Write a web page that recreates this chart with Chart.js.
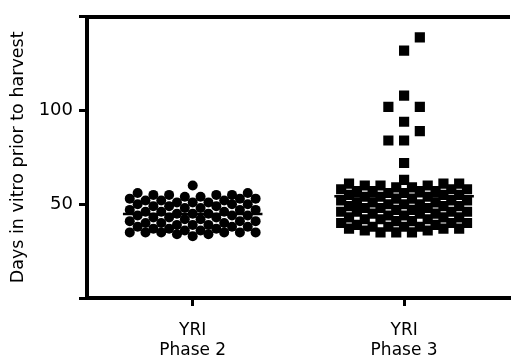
<!DOCTYPE html>
<html>
<head>
<meta charset="utf-8">
<script src="https://cdn.jsdelivr.net/npm/chart.js@4.4.1/dist/chart.umd.min.js"></script>
<style>
  html, body { margin: 0; padding: 0; background: #fff; overflow: hidden; }
  #wrap { width: 517px; height: 360px; }
</style>
</head>
<body>
<div id="wrap"><canvas id="chart" width="517" height="360"></canvas></div>
<script>
const groupLabels = [['YRI', 'Phase 2'], ['YRI', 'Phase 3']];
const yTitle = 'Days in vitro prior to harvest';
const yTicks = [0, 50, 100, 150];

// days in vitro, one entry per cell line
const phase2Days = [
  33, 34, 34, 35, 35, 35, 35, 35, 35,
  36, 36, 37, 37, 37, 38, 38, 38,
  39, 39, 39, 40, 40, 40, 41, 41, 41,
  42, 42, 43, 43, 43, 44, 44, 44,
  45, 45, 45, 46, 46, 46, 47, 47, 47,
  48, 48, 49, 49, 49, 50, 50, 50,
  51, 51, 51, 52, 52, 52, 53, 53, 53,
  54, 54, 55, 55, 55, 55, 56, 56,
  60
];
const phase3Days = [
  35, 35, 35, 36, 36, 37, 37, 37,
  38, 38, 38, 38, 39, 39, 40, 40, 40,
  41, 41, 42, 42, 42, 43, 43, 43,
  44, 44, 45, 45, 45, 46, 46, 46, 46,
  47, 47, 48, 48, 48, 49, 49, 49,
  50, 50, 50, 51, 51, 51, 52, 52, 52,
  53, 53, 54, 54, 54, 55, 55, 55,
  56, 56, 57, 57, 57, 57, 58, 58, 58,
  59, 59, 60, 60, 60, 61, 61, 61,
  63, 72, 84, 84, 89, 94, 102, 102, 108, 132, 139
];

const FONT = 'DejaVu Sans';
// rough pixel size of one day / one group on the plot, used only to spread the dots sideways
const PX_PER_DAY = 284 / 150;
const PX_PER_GROUP = 215;

// Prism-style scatter: values in the same bin share a row centred on the
// group, lowest value in the middle and higher ones outward. Lone points
// (bins with fewer than 3) are nudged left/right so they don't sit on each other.
function rows(values, group, binDays, spacing) {
  const lo = Math.min(...values);
  const bins = new Map();
  values.slice().sort((a, b) => a - b).forEach(v => {
    const b = Math.floor((v - lo) / binDays);
    if (!bins.has(b)) bins.set(b, []);
    bins.get(b).push(v);
  });
  const pts = [];
  const sparse = [];
  bins.forEach(vs => {
    const n = vs.length;
    if (n < 3) { sparse.push(...vs); return; }
    const slots = vs.map((v, j) => (j - (n - 1) / 2) * spacing)
      .sort((a, b) => Math.abs(a) - Math.abs(b) || a - b);
    vs.forEach((v, i) => pts.push({ x: group + slots[i] / PX_PER_GROUP, y: v }));
  });
  const placed = [];
  sparse.forEach((v, i) => {
    const py = v * PX_PER_DAY;
    let x = 0;
    for (let k = 0; k < 10; k++) {
      const tries = k === 0 ? [0] : (i % 2 ? [-k, k] : [k, -k]).map(s => s * spacing);
      const free = tries.find(dx => placed.every(p =>
        Math.abs(p.x - dx) >= spacing || Math.abs(p.y - py) >= spacing));
      if (free !== undefined) { x = free; break; }
    }
    placed.push({ x, y: py });
    pts.push({ x: group + x / PX_PER_GROUP, y: v });
  });
  return pts;
}

function mean(arr) {
  return arr.reduce((s, v) => s + v, 0) / arr.length;
}

const meanLine = (values, group) => [
  { x: group - 0.33, y: mean(values) },
  { x: group + 0.33, y: mean(values) }
];

new Chart(document.getElementById('chart'), {
  type: 'scatter',
  data: {
    datasets: [
      {
        data: rows(phase2Days, 0, 3, 16),
        pointStyle: 'circle',
        pointRadius: 5,
        backgroundColor: '#000',
        borderWidth: 0
      },
      {
        data: rows(phase3Days, 1, 3, 16),
        pointStyle: 'rect',
        pointRadius: 7.2,
        backgroundColor: '#000',
        borderWidth: 0
      },
      {
        type: 'line',
        data: meanLine(phase2Days, 0),
        borderColor: '#000',
        borderWidth: 2.5,
        pointRadius: 0
      },
      {
        type: 'line',
        data: meanLine(phase3Days, 1),
        borderColor: '#000',
        borderWidth: 2.5,
        pointRadius: 0
      }
    ]
  },
  options: {
    responsive: false,
    animation: false,
    layout: { padding: 0 },
    plugins: { legend: { display: false }, tooltip: { enabled: false } },
    scales: {
      x: {
        type: 'linear',
        position: 'bottom',
        min: -0.5,
        max: 1.5,
        afterBuildTicks: s => { s.ticks = groupLabels.map((g, i) => ({ value: i })); },
        ticks: {
          callback: v => groupLabels[v],
          color: '#000',
          font: { family: FONT, size: 17, lineHeight: 1.2 },
          padding: 14,
          maxRotation: 0,
          autoSkip: false
        },
        grid: { drawOnChartArea: false, tickLength: 8, lineWidth: 3, color: '#000' },
        border: { width: 4, color: '#000' },
        afterFit: s => { s.height = 62; }
      },
      x2: {
        type: 'linear',
        position: 'top',
        min: -0.5,
        max: 1.5,
        ticks: { display: false },
        grid: { drawOnChartArea: false, drawTicks: false, color: '#000' },
        border: { width: 4, color: '#000' },
        afterFit: s => { s.height = 14; }
      },
      y: {
        min: 0,
        max: 150,
        afterBuildTicks: s => { s.ticks = yTicks.map(v => ({ value: v })); },
        ticks: {
          callback: v => (v === 0 || v === 150) ? '' : v,
          color: '#000',
          font: { family: FONT, size: 18 },
          padding: 6
        },
        grid: { drawOnChartArea: false, tickLength: 8, lineWidth: 3, color: '#000' },
        border: { width: 4, color: '#000' },
        title: {
          display: true,
          text: yTitle,
          color: '#000',
          font: { family: FONT, size: 17.5 },
          padding: { top: 8, bottom: 0 }
        },
        afterFit: s => { s.width = 87; }
      }
    }
  }
});
</script>
</body>
</html>
